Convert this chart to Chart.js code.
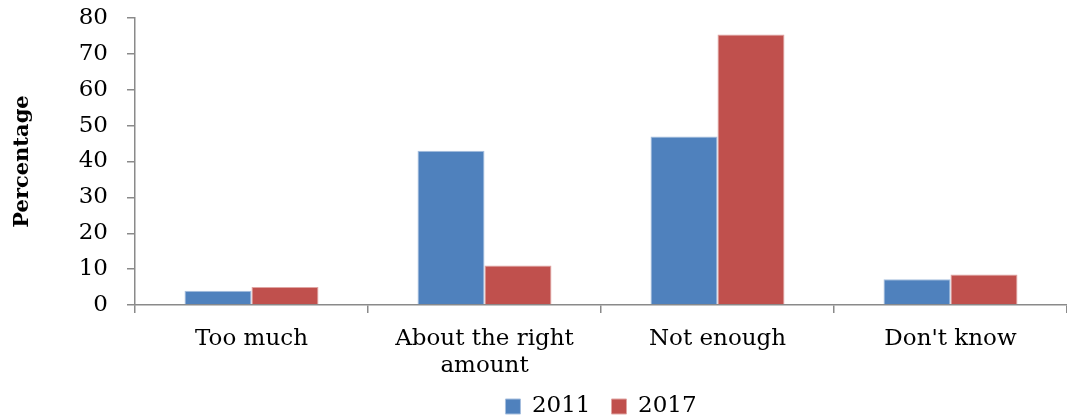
<!DOCTYPE html>
<html>
<head>
<meta charset="utf-8">
<script src="https://cdn.jsdelivr.net/npm/chart.js@4"></script>
<style>
  body { margin: 0; background: #fff; }
  #wrap { width: 1067px; height: 418px; }
</style>
</head>
<body>
<div id="wrap"><canvas id="chart" width="1067" height="418"></canvas></div>
<script>
let categories = [["Too much"], ["About the right", "amount"], ["Not enough"], ["Don't know"]]
let seriesNames = ["2011", "2017"]
let values2011 = [4, 43, 47, 7.2]
let values2017 = [5, 11, 75.4, 8.5]
let yTicks = [0, 10, 20, 30, 40, 50, 60, 70, 80]

let fontFam = "'DejaVu Serif', 'Liberation Serif', serif"
let axisGray = "#8a8a8a"

let ctx = document.querySelector("#chart").getContext("2d")

let chart = new Chart(ctx, {
    type: "bar",
    data: {
        labels: categories,
        datasets: [
            {
                label: seriesNames[0],
                data: values2011,
                backgroundColor: "#4F81BD",
                borderColor: "#A7BFDE",
                borderWidth: 1,
                categoryPercentage: 0.575,
                barPercentage: 1
            },
            {
                label: seriesNames[1],
                data: values2017,
                backgroundColor: "#C0504D",
                borderColor: "#E0A5A3",
                borderWidth: 1,
                categoryPercentage: 0.575,
                barPercentage: 1
            }
        ]
    },
    options: {
        responsive: false,
        animation: false,
        layout: {
            padding: { left: 0, right: 0, top: 18, bottom: 0 }
        },
        scales: {
            x: {
                grid: {
                    display: true,
                    drawOnChartArea: false,
                    drawTicks: true,
                    tickLength: 8,
                    color: axisGray,
                    lineWidth: 1.5,
                    offset: true
                },
                border: { color: axisGray, width: 1.5 },
                ticks: {
                    color: "#000",
                    padding: 13,
                    maxRotation: 0,
                    autoSkip: false,
                    font: { family: fontFam, size: 23, lineHeight: 1.15 }
                },
                afterFit: (scale) => {
                    scale.height = 69
                    scale.paddingLeft = 0
                    scale.paddingRight = 0
                }
            },
            y: {
                min: 0,
                max: 80,
                afterBuildTicks: (scale) => {
                    scale.ticks = yTicks.map(v => ({ value: v }))
                },
                grid: {
                    display: true,
                    drawOnChartArea: false,
                    drawTicks: true,
                    tickLength: 8,
                    lineWidth: 1.5,
                    color: axisGray
                },
                border: { color: axisGray, width: 1.5 },
                ticks: {
                    color: "#000",
                    padding: 19,
                    font: { family: fontFam, size: 23 }
                },
                title: {
                    display: true,
                    text: "Percentage",
                    color: "#000",
                    padding: { top: 10, bottom: 0 },
                    font: { family: fontFam, size: 21, weight: "bold" }
                },
                afterFit: (scale) => {
                    scale.width = 135
                    scale.paddingTop = 0
                    scale.paddingBottom = 0
                }
            }
        },
        plugins: {
            legend: {
                display: true,
                position: "bottom",
                fullSize: false,
                maxHeight: 44,
                labels: {
                    color: "#000",
                    boxWidth: 15,
                    boxHeight: 15,
                    padding: 21,
                    font: { family: fontFam, size: 23 }
                }
            },
            tooltip: { enabled: false }
        }
    }
})
</script>
</body>
</html>
